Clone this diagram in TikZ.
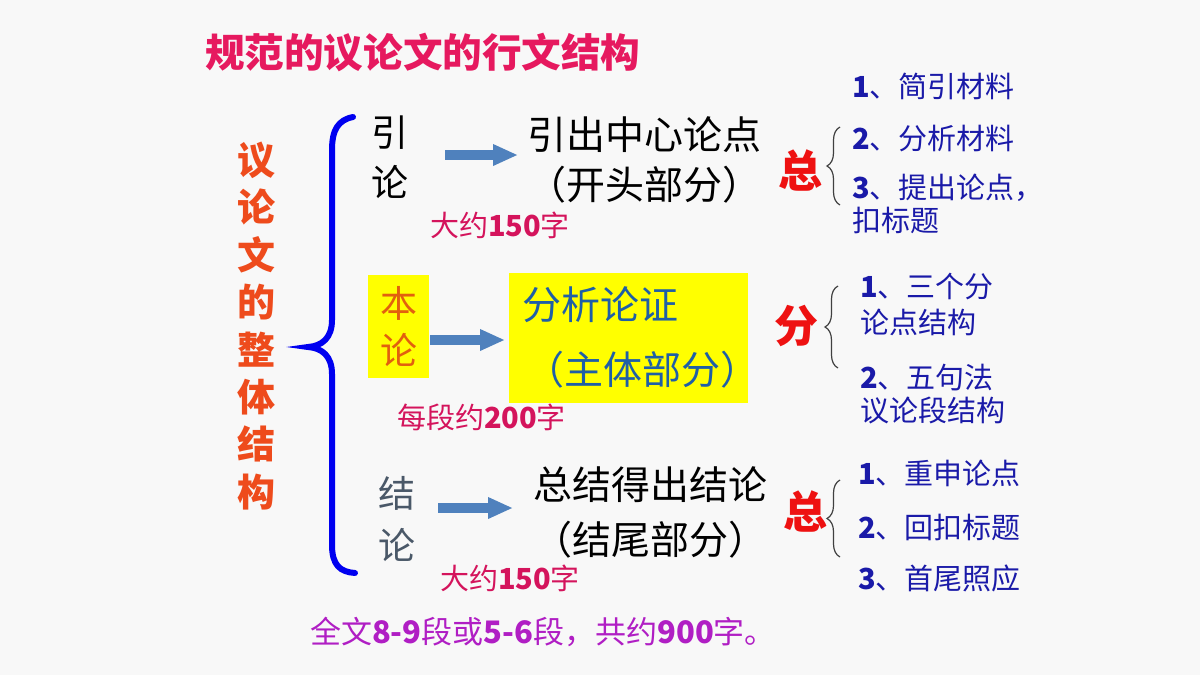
\documentclass[tikz,border=0pt]{standalone}
\usepackage{fontspec}
\setmainfont{Noto Sans CJK SC}
\usetikzlibrary{arrows.meta,decorations.pathreplacing}
\definecolor{bgc}{HTML}{F8F8F8}
\definecolor{titlec}{HTML}{E6195F}
\definecolor{vertc}{HTML}{EE4B1C}
\definecolor{bracec}{HTML}{0000F0}
\definecolor{pinkc}{HTML}{D4145C}
\definecolor{redc}{HTML}{EE1111}
\definecolor{listc}{HTML}{1A1AA8}
\definecolor{yellowc}{HTML}{FFFF00}
\definecolor{tealc}{HTML}{1F5FA6}
\definecolor{benc}{HTML}{E2600E}
\definecolor{jiec}{HTML}{4A5868}
\definecolor{purplec}{HTML}{B01EC4}
\definecolor{arrowc}{HTML}{4F81BD}
\definecolor{sbracec}{HTML}{404040}
\newcommand\fsz[1]{\fontsize{#1}{#1}\selectfont}
\begin{document}
\begin{tikzpicture}[x=0.5pt,y=-0.5pt,
  t/.style={inner sep=0pt,outer sep=0pt},
  barrow/.style={draw=arrowc,line width=5pt,-{Triangle[length=12.5pt,width=10pt]}},
  sbrace/.style={draw=sbracec,line width=0.6pt,decorate,decoration={brace,amplitude=6.5pt}},
  bbrace/.style={draw=bracec,line width=3pt,line cap=round},
  lst/.style={t,anchor=west,text=listc,font=\fsz{14.5}},
  cnt/.style={t,anchor=west,text=pinkc,font=\fsz{14.5}},
  bigz/.style={t,text=redc,font=\fsz{22}\bfseries}]
\fill[bgc] (0,0) rectangle (1200,675);
\useasboundingbox (0,0) rectangle (1200,675);
% title
\node[t,anchor=west,text=titlec,font=\fsz{19.8}\bfseries] (title) at (205,52) {规范的议论文的行文结构};
% left vertical
\node[t,align=center,text=vertc,font=\fontsize{19}{23.7}\selectfont\bfseries] (vert) at (256,326) {议\\论\\文\\的\\整\\体\\结\\构};
% big brace
\draw[bbrace] (353,117) .. controls (338,120) and (332,130) .. (332,150) -- (332,320) .. controls (332,338) and (322,346) .. (308,347) .. controls (322,348) and (332,356) .. (332,374) -- (332,545) .. controls (332,565) and (340,572) .. (355,573);
% row 1
\node[t,align=center,font=\fontsize{18.5}{25}\selectfont] (yl) at (390,157) {引\\论};
\node[t,align=left,anchor=west,font=\fontsize{19.5}{25}\selectfont] (yr) at (527,160) {引出中心论点\\（开头部分）};
\coordinate (a1s) at (445,155);
\coordinate (a1e) at (518,155);
\draw[barrow] (a1s) -- (a1e);
\node[cnt] (n1) at (430,225) {大约\textbf{150}字};
\node[bigz] (z1) at (800,170) {总};
\draw[sbrace] (840,205) -- (840,127);
\node[lst] (l11) at (852,86) {\textbf{1}、简引材料};
\node[lst] (l12) at (852,139) {\textbf{2}、分析材料};
\node[lst] (l13) at (852,188) {\textbf{3}、提出论点，};
\node[lst] (l14) at (852,220) {扣标题};
% row 2
\node[t,fill=yellowc,minimum width=30.5pt,minimum height=51.5pt,align=center,text=benc,font=\fontsize{18.5}{23.5}\selectfont] (bl) at (398.5,326.5) {本\\论};
\node[t,fill=yellowc,minimum width=119.5pt,minimum height=65pt] (zbox) at (628.5,338) {};
\node[t,anchor=west,text=tealc,font=\fsz{19.5}] (zt1) at (522,305) {分析论证};
\node[t,anchor=west,text=tealc,font=\fsz{19.5}] (zt2) at (525,370) {（主体部分）};
\coordinate (a2s) at (430,340);
\coordinate (a2e) at (505,340);
\draw[barrow] (a2s) -- (a2e);
\node[cnt] (n2) at (397,417) {每段约\textbf{200}字};
\node[bigz] (z2) at (796,326) {分};
\draw[sbrace] (838,368) -- (838,286);
\node[lst] (l21) at (860,287) {\textbf{1}、三个分};
\node[lst] (l22) at (860,322) {论点结构};
\node[lst] (l23) at (860,378) {\textbf{2}、五句法};
\node[lst] (l24) at (860,410) {议论段结构};
% row 3
\node[t,align=center,text=jiec,font=\fontsize{18.5}{26}\selectfont] (jl) at (397,519) {结\\论};
\node[t,align=left,anchor=west,font=\fontsize{19.5}{27.5}\selectfont] (jr) at (533,512) {总结得出结论\\（结尾部分）};
\coordinate (a3s) at (438,508);
\coordinate (a3e) at (513,508);
\draw[barrow] (a3s) -- (a3e);
\node[cnt] (n3) at (440,578) {大约\textbf{150}字};
\node[bigz] (z3) at (805,511) {总};
\draw[sbrace] (840,557) -- (840,480);
\node[lst] (l31) at (858,473) {\textbf{1}、重申论点};
\node[lst] (l32) at (858,527) {\textbf{2}、回扣标题};
\node[lst] (l33) at (858,578) {\textbf{3}、首尾照应};
% bottom
\node[t,anchor=west,text=purplec,font=\fsz{15.5}] (bottom) at (310,632) {全文\textbf{8-9}段或\textbf{5-6}段，共约\textbf{900}字。};
\end{tikzpicture}
\end{document}
